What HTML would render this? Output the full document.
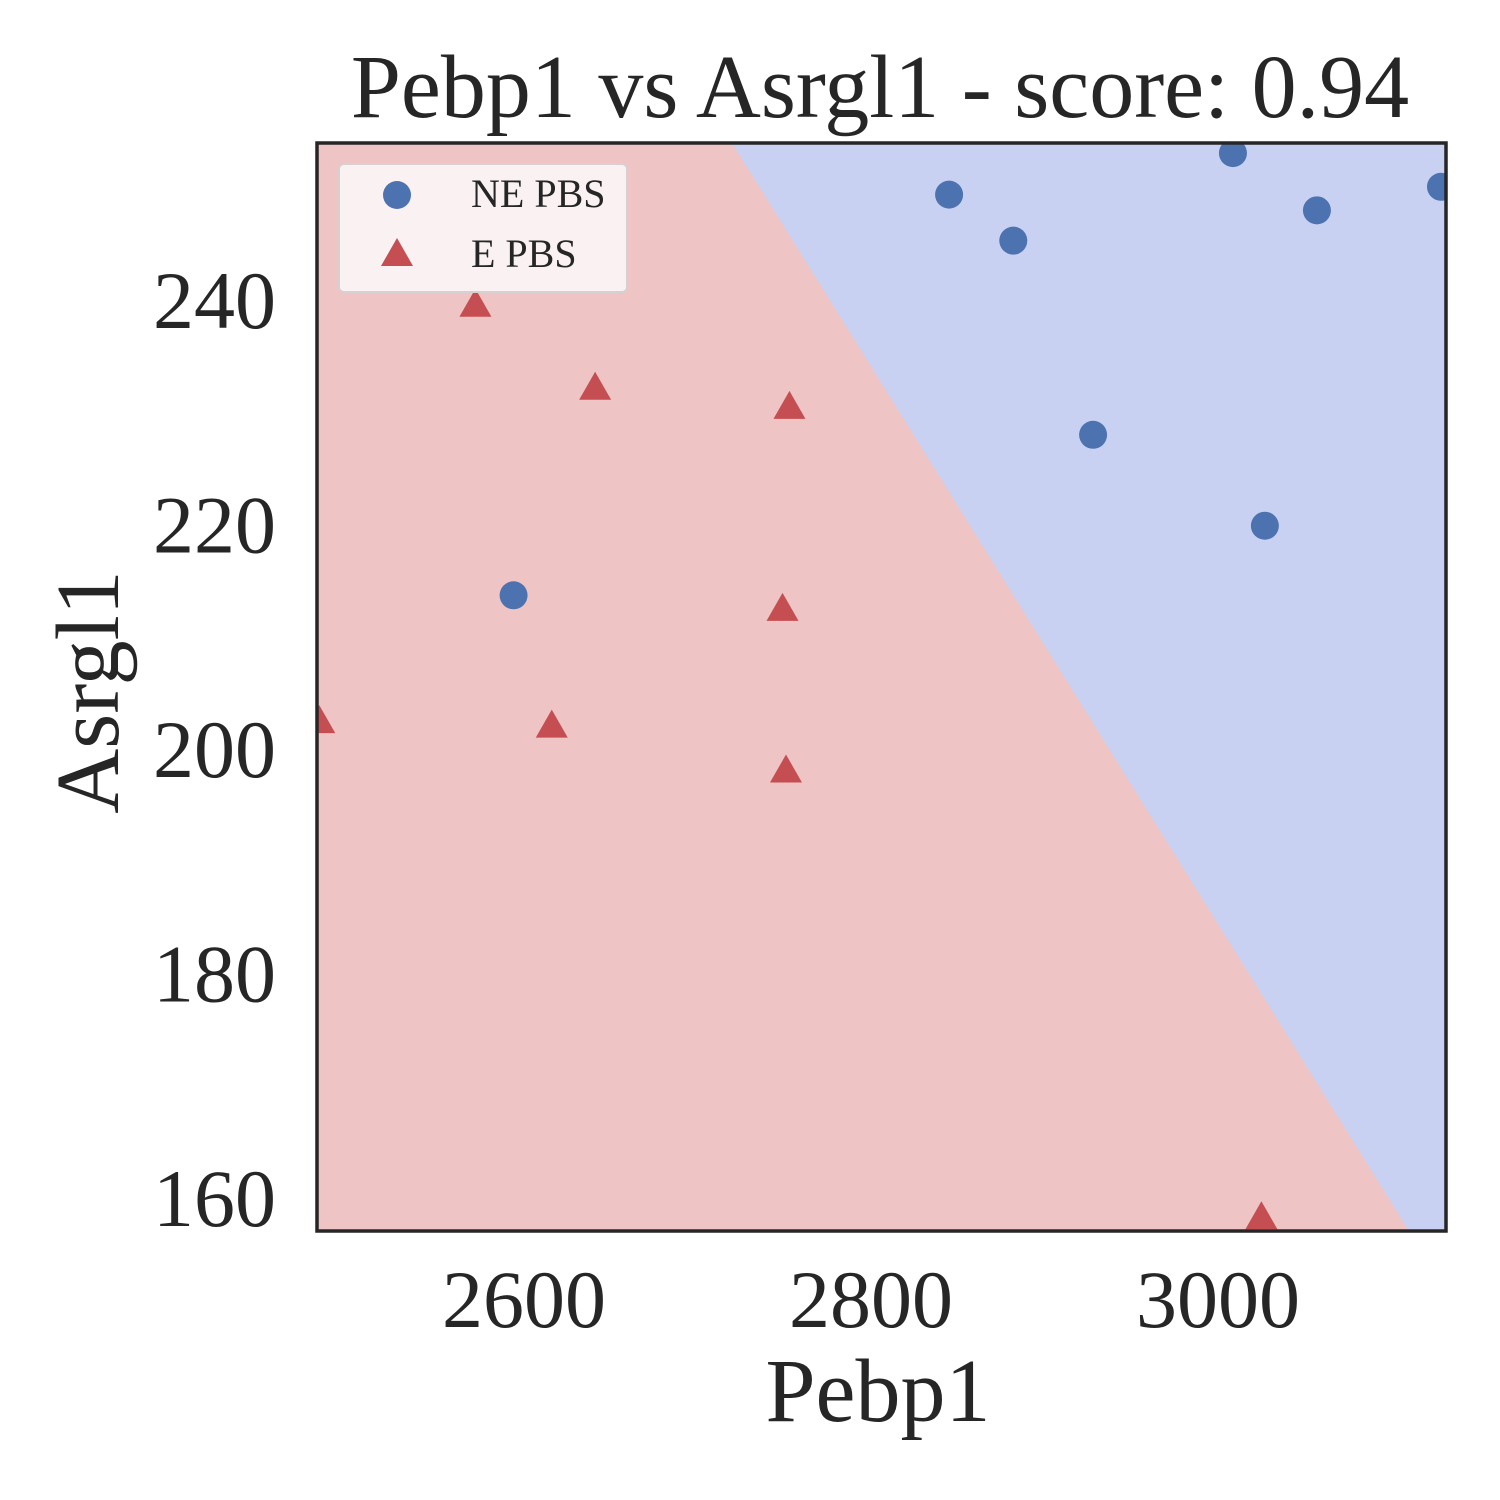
<!DOCTYPE html>
<html><head><meta charset="utf-8"><style>
html,body{margin:0;padding:0;background:#fff;}
svg{display:block;font-family:"Liberation Serif",serif;}
</style></head><body>
<svg id="chart" width="1500" height="1500" viewBox="0 0 1500 1500" xmlns="http://www.w3.org/2000/svg"></svg>
<script>
const xTicks=[2600,2800,3000];
const yTicks=[160,180,200,220,240];
const neX=[2845,2882,3008.6,3057,3128.5,2928,3027,2594];
const neY=[249.4,245.3,253.1,248.0,250.1,228.0,219.9,213.7];
const eX=[2572,2641,2753,2749,2616,2482,2751,3025];
const eY=[239.5,232.1,230.4,212.4,202.0,202.4,198.0,158.2];
const boundaryX=[2719.9,3110.1];
const boundaryY=[254.0,157.06];
const xDomain=[2480.7,3131.4], yDomain=[157.06,254.0];
const L=317,R=1446,T=143,B=1231;
const sx=v=>L+(v-xDomain[0])/(xDomain[1]-xDomain[0])*(R-L);
const sy=v=>B-(v-yDomain[0])/(yDomain[1]-yDomain[0])*(B-T);
const NS="http://www.w3.org/2000/svg";
const svg=document.getElementById('chart');
function mk(tag,attrs,parent){const e=document.createElementNS(NS,tag);for(const k in attrs)e.setAttribute(k,attrs[k]);(parent||svg).appendChild(e);return e;}
const bg=mk('rect',{x:L,y:T,width:R-L,height:B-T,fill:'#c8d1f2'});


const bx0=sx(boundaryX[0]),by0=sy(boundaryY[0]),bx1=sx(boundaryX[1]),by1=sy(boundaryY[1]);
const red=mk('polygon',{points:`${L},${T} ${bx0},${by0} ${bx1},${by1} ${L},${B}`,fill:'#eec5c4'});


const clip=mk('clipPath',{id:'cp'});mk('rect',{x:L,y:T,width:R-L,height:B-T},clip);
const g=mk('g',{'clip-path':'url(#cp)'});
neX.forEach((x,i)=>{const c=mk('circle',{cx:sx(x),cy:sy(neY[i]),r:14,fill:'#4c72b0'},g);

});
eX.forEach((x,i)=>{const cx=sx(x),cy=sy(eY[i]);const p=mk('polygon',{points:`${cx},${cy-17} ${cx-16},${cy+11} ${cx+16},${cy+11}`,fill:'#c44e52'},g);

});
const fr=mk('rect',{x:L,y:T,width:R-L,height:B-T,fill:'none',stroke:'#262626','stroke-width':3.5});


xTicks.forEach(v=>{const t=mk('text',{x:sx(v),y:1327,'font-size':82,fill:'#262626','text-anchor':'middle'});t.textContent=v;

});
yTicks.forEach(v=>{const t=mk('text',{x:276,y:sy(v)+28,'font-size':82,fill:'#262626','text-anchor':'end'});t.textContent=v;

});
const ti=mk('text',{x:880,y:117,'font-size':90,fill:'#262626','text-anchor':'middle'});ti.textContent='Pebp1 vs Asrgl1 - score: 0.94';


const xl=mk('text',{x:878,y:1421,'font-size':90,fill:'#262626','text-anchor':'middle'});xl.textContent='Pebp1';


const yl=mk('text',{x:0,y:0,'font-size':90,fill:'#262626','text-anchor':'middle',transform:'translate(118,692) rotate(-90)'});yl.textContent='Asrgl1';


const lg=mk('g',{});


mk('rect',{x:339,y:164,width:288,height:128,rx:5,fill:'#faf2f2',stroke:'#d8d0d0','stroke-width':2},lg);
mk('circle',{cx:397,cy:195,r:14,fill:'#4c72b0'},lg);
mk('polygon',{points:'397,238 381,266 413,266',fill:'#c44e52'},lg);
const l1=mk('text',{x:471,y:207,'font-size':40,fill:'#262626'},lg);l1.textContent='NE PBS';


const l2=mk('text',{x:471,y:267,'font-size':40,fill:'#262626'},lg);l2.textContent='E PBS';


</script>
</body></html>
